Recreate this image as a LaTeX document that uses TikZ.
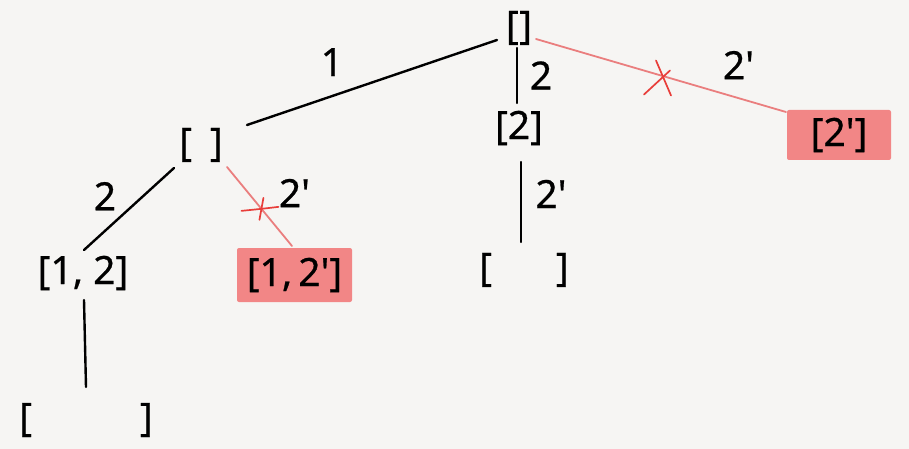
\documentclass[tikz,border=0pt]{standalone}
\usepackage{fontspec}
\newfontfamily\treefont{Noto Sans}[FakeBold=0.6]
\usetikzlibrary{calc}
\definecolor{paper}{RGB}{246,245,243}
\definecolor{cutline}{RGB}{234,126,126}
\definecolor{cutmark}{RGB}{232,62,58}
\definecolor{cutbox}{RGB}{242,134,134}
\tikzset{
  state/.style={inner sep=0pt},
  cutstate/.style={fill=cutbox, rounded corners=2pt, minimum height=50pt, inner sep=0pt},
  choice/.style={line width=2.4pt},
  cutchoice/.style={line width=1.8pt, cutline},
  cutx/.style={line width=1.7pt, cutmark},
  lab/.style={inner sep=0pt, text=black}
}
\begin{document}
\begin{tikzpicture}[x=1pt, y=-1pt, font=\treefont\fontsize{39}{46}\selectfont, line cap=round]
	\fill[paper] (0,0) rectangle (909,449);
	\useasboundingbox (0,0) rectangle (909,449);
	% states
	\node[state] (root) at (519,28) {[\hspace{0.5pt}]};
	\node[state] (lft) at (201,145) {[\hspace{18pt}]};
	\node[state] (two) at (519,128) {[2]};
	\node[cutstate, minimum width=104pt] (c2) at (839,135) {[2']};
	\node[state] (one2) at (83,273) {[1,\hspace{10pt}2]};
	\node[cutstate, minimum width=115pt, minimum height=54pt] (c12) at (294.5,275) {[1,\hspace{6pt}2']};
	\node[state] (leafb) at (524,270) {[\hspace{64pt}]};
	\node[state] (leafa) at (86,420) {[\hspace{108pt}]};
	% choices
	\draw[choice] ($(root)+(-22,12)$) -- node[lab, pos=0.66, yshift=34pt] {1} ($(lft)+(46,-20)$);
	\draw[choice] ($(root)+(-2,20)$) -- node[lab, xshift=24pt] {2} ($(two)+(-2,-25)$);
	\draw[cutchoice] ($(root)+(17,11)$) -- coordinate[pos=0.5] (x1) node[lab, pos=0.81, yshift=33pt] {2'} ($(c2)+(-53,-23)$);
	\draw[choice] ($(lft)+(-27,23)$) -- node[lab, pos=0.6, xshift=-15pt, yshift=21pt] {2} ($(one2)+(1,-23)$);
	\draw[cutchoice] ($(lft)+(26,22)$) -- coordinate[pos=0.53] (x2) node[lab, pos=0.33, xshift=46pt] {2'} ($(c12)+(-2.5,-29)$);
	\draw[choice] ($(two)+(2,34)$) -- node[lab, pos=0.4, xshift=30pt] {2'} ($(leafb)+(-3,-28)$);
	\draw[choice] ($(one2)+(1,27)$) -- ($(leafa)+(0,-33)$);
	% cut marks
	\draw[cutx] ($(x1)+(-17,19)$) -- ($(x1)+(9,-5)$);
	\draw[cutx] ($(x1)+(-5,-15)$) .. controls ($(x1)+(2,3)$) .. ($(x1)+(10,20)$);
	\draw[cutx] ($(x2)+(-20,2)$) .. controls ($(x2)+(0,0)$) .. ($(x2)+(17,-2)$);
	\draw[cutx] ($(x2)+(2,-11)$) -- ($(x2)+(-2,11)$);
\end{tikzpicture}
\end{document}
